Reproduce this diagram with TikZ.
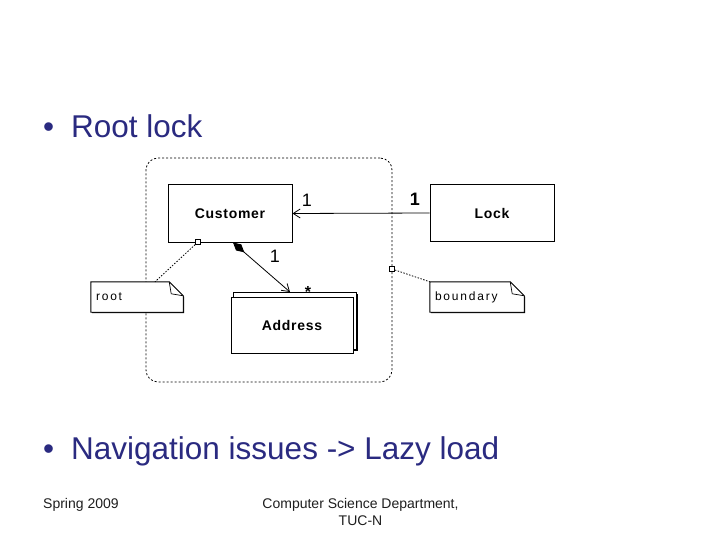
\documentclass[tikz,border=0pt]{standalone}
\usepackage{fontspec}
\setmainfont{Liberation Sans}
\usetikzlibrary{arrows.meta,calc,shadows}
\definecolor{navy}{RGB}{42,42,128}
\definecolor{foot}{RGB}{30,30,30}
\begin{document}
\begin{tikzpicture}[x=1pt,y=-1pt,
  bigtext/.style={anchor=base west, text=navy, inner sep=0pt, font=\fontsize{31.5}{34}\selectfont},
  foottext/.style={anchor=base, text=foot, inner sep=0pt, font=\fontsize{14}{16}\selectfont},
  cls/.style={draw, line width=1pt, fill=white, inner sep=0pt,
    drop shadow={shadow xshift=1.2pt, shadow yshift=-1.2pt, fill=black, opacity=1},
    font=\fontsize{14}{14}\selectfont\bfseries\addfontfeature{LetterSpace=5}},
  notebox/.style={inner sep=0pt, inner xsep=5pt, align=left,
    font=\fontsize{12}{12}\selectfont\addfontfeature{LetterSpace=15}},
  noteline/.style={draw, line width=0.9pt, fill=white,
    drop shadow={shadow xshift=1pt, shadow yshift=-1pt, fill=black, opacity=1}},
  mult/.style={inner sep=0pt, font=\fontsize{18}{18}\selectfont},
  aggr/.style={draw, dash pattern=on 2pt off 2pt, line width=0.8pt, rounded corners=12pt, inner sep=0pt},
  anchorsq/.style={draw, line width=0.6pt, fill=white, minimum size=5pt, inner sep=0pt},
  dotline/.style={dash pattern=on 1.5pt off 1.5pt, line width=0.8pt},
]
\useasboundingbox (0,0) rectangle (720,540);

% titles
\node[bigtext] (b1) at (43,138) {•};
\node[bigtext] (t1) at (71,138) {Root lock};
\node[bigtext] (b2) at (43,459) {•};
\node[bigtext] (t2) at (71,459) {Navigation issues -> Lazy load};

% footer
\node[foottext, anchor=base west] (f1) at (43,508) {Spring 2009};
\node[foottext] (f2) at (360.5,508) {Computer Science Department,};
\node[foottext] (f3) at (360.5,525) {TUC-N};

% aggregate boundary
\node[aggr, minimum width=246pt, minimum height=224pt] (agg) at (269,270) {};

% classes
\node[cls, minimum width=124pt, minimum height=57pt] (cust) at (230,213.5) {Customer};
\node[cls, minimum width=124pt, minimum height=56pt] (lock) at (492,213) {Lock};
\node[cls, minimum width=123pt, minimum height=57pt, font=\fontsize{1}{1}\selectfont] (addrb) at (295,321) {};
\node[cls, minimum width=122pt, minimum height=56pt] (addr) at (292,325) {Address};

% notes
\node[notebox, minimum height=30pt, text width=82pt] (root) at (137,297) {root};
\node[notebox, minimum height=30pt, text width=84pt] (bnd) at (477,297) {boundary};
\foreach \n in {root,bnd}{
  \path[noteline] (\n.north west) -- ($(\n.north east)+(-14,0)$) -- ($(\n.north east)+(0,14)$)
     -- (\n.south east) -- (\n.south west) -- cycle;
  \draw[line width=0.7pt] ($(\n.north east)+(-14,0)$) -- ($(\n.north east)+(-12,12)$) -- ($(\n.north east)+(0,14)$);
  \node[notebox, minimum height=30pt] at (\n) {};
}
\node[notebox, anchor=west] at (root.west) {root};
\node[notebox, anchor=west] at (bnd.west) {boundary};

% association Lock -> Customer
\draw[line width=0.8pt, -{Straight Barb[length=7pt,width=9pt]}] (lock.west) -- (cust.east);
\node[mult] (m1) at (307,200) {1};
\node[mult, font=\fontsize{18}{18}\selectfont\bfseries] (m2) at (415,199) {1};

% composition Customer -> Address
\draw[line width=0.8pt, {Diamond[length=15pt,width=8pt]}-{Straight Barb[length=7pt,width=9pt]}]
  ([xshift=3pt]cust.south) -- ([xshift=-5pt]addrb.north);
\node[mult] (m3) at (275,256) {1};
\node[mult, font=\fontsize{16}{16}\selectfont\bfseries] (m4) at (308,292) {*};

% note anchors
\node[anchorsq] (sq1) at (198,242) {};
\node[anchorsq] (sq2) at (392,269) {};
\draw[dotline] (sq1) -- ([xshift=18pt]root.north);
\draw[dotline] (sq2) -- (bnd.north west);
\end{tikzpicture}
\end{document}
